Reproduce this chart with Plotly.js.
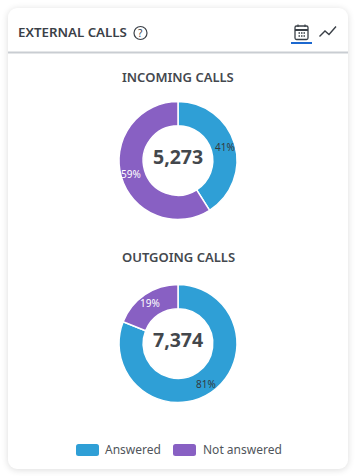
<!DOCTYPE html>
<html><head><meta charset="utf-8">
<script src="https://cdn.plot.ly/plotly-3.0.1.min.js"></script>
<style>
html,body{margin:0;padding:0;background:#fff;width:357px;height:476px;overflow:hidden}
#card{position:absolute;left:8px;top:8px;width:340px;height:461px;background:#fff;border-radius:9px;box-shadow:0 1px 7px rgba(0,0,0,.14)}
#chart{position:absolute;left:0;top:0;width:357px;height:476px}
</style></head><body>
<div id="card"></div><div id="chart"></div>
<script>
const categories = ["Answered", "Not answered"];
const incomingValues = [2162, 3111];
const outgoingValues = [5973, 1401];
const incomingTotal = "5,273";
const outgoingTotal = "7,374";
const sliceColors = ["#2f9fd6", "#8860c3"];
const labelColors = ["#333a40", "#ffffff"];
const W = 357, H = 476;
const FONT = '"Noto Sans", "Open Sans", sans-serif';

function pie(values, top, bottom) {
  return {
    type: "pie", labels: categories, values: values, hole: 0.59, sort: false,
    direction: "clockwise", rotation: 0, showlegend: false, hoverinfo: "none",
    textinfo: "none",
    marker: {colors: sliceColors, line: {color: "#fff", width: 1.5}},
    domain: {x: [119 / W, 237 / W], y: [1 - bottom / H, 1 - top / H]}
  };
}
const data = [
  pie(incomingValues, 101.5, 219.5),
  pie(outgoingValues, 284.5, 402.5)
];
function text(t, x, y, size, color, weight, anchor) {
  return {text: t, x: x, y: y, xref: "x", yref: "y", showarrow: false,
    xanchor: anchor || "center", yanchor: "middle",
    font: {family: FONT, size: size, color: color, weight: weight || 400}};
}
function percentLabels(values, cx, cy) {
  const total = values.reduce((a, b) => a + b, 0);
  let run = 0;
  return values.map((v, i) => {
    const a = (run + v / 2) / total * 2 * Math.PI;
    run += v;
    return text(Math.round(v / total * 100) + "%", cx + 49 * Math.sin(a), cy - 49 * Math.cos(a), 10, labelColors[i]);
  });
}
function rr(x, y, w, h, r) {
  return `M${x + r},${y}H${x + w - r}Q${x + w},${y} ${x + w},${y + r}V${y + h - r}Q${x + w},${y + h} ${x + w - r},${y + h}H${x + r}Q${x},${y + h} ${x},${y + h - r}V${y + r}Q${x},${y} ${x + r},${y}Z`;
}
function sh(path, fill, lineColor, lw) {
  return {type: "path", path: path, xref: "x", yref: "y", fillcolor: fill || "rgba(0,0,0,0)",
    line: {color: lineColor || "rgba(0,0,0,0)", width: lw || 0}};
}
const dark = "#3a4047";
const shapes = [
  sh("M8,52.5H348", null, "#c9cdd2", 2),
  {type: "circle", xref: "x", yref: "y", x0: 134, x1: 147, y0: 26.5, y1: 39.5, line: {color: dark, width: 1.2}},
  // calendar icon
  sh(rr(295, 26, 13, 13.5, 1.5), null, dark, 1.3),
  sh("M295,30H308", null, dark, 2),
  sh("M298,24.5V27M305,24.5V27", null, dark, 1.2),
  sh("M298.5,33H300M301,33H302.5M303.5,33H305M298.5,36H300M301,36H302.5M303.5,36H305", null, dark, 1.3),
  sh("M291,43H312", null, "#1c68cf", 2),
  // trend icon
  sh("M319.5,36.5L325,31L329,34.5L336,26.5", null, dark, 1.4),
  // legend swatches
  sh(rr(76, 444, 23, 12, 2.5), sliceColors[0]),
  sh(rr(173, 444, 23, 12, 2.5), sliceColors[1])
];
const annotations = [
  text("EXTERNAL CALLS", 15.5, 32, 13.3, dark, 600, "left"),
  text("?", 140.5, 33, 10, dark, 400),
  text("INCOMING CALLS", 178, 77, 13, "#44484e", 600),
  text("OUTGOING CALLS", 178, 257, 13, "#44484e", 600),
  text(incomingTotal, 178, 156.5, 19.5, "#43474c", 700),
  text(outgoingTotal, 178, 339.5, 19.5, "#43474c", 700),
  text(categories[0], 103, 449, 12, "#50555b", 400, "left"),
  text(categories[1], 200.5, 449, 12, "#50555b", 400, "left"),
  ...percentLabels(incomingValues, 178, 160.5),
  ...percentLabels(outgoingValues, 178, 343.5)
];
const layout = {
  width: W, height: H, margin: {l: 0, r: 0, t: 0, b: 0},
  paper_bgcolor: "rgba(0,0,0,0)", plot_bgcolor: "rgba(0,0,0,0)",
  xaxis: {range: [0, W], visible: false, fixedrange: true},
  yaxis: {range: [H, 0], visible: false, fixedrange: true},
  shapes: shapes, annotations: annotations
};
Plotly.newPlot("chart", data, layout, {displayModeBar: false, staticPlot: true});
</script>
</body></html>
